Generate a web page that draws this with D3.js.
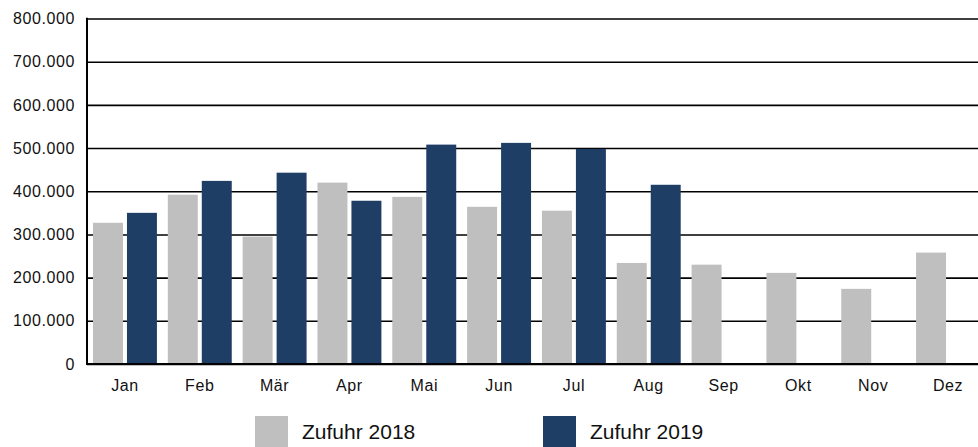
<!DOCTYPE html>
<html>
<head>
<meta charset="utf-8">
<script src="https://cdn.jsdelivr.net/npm/d3@7"></script>
<style>
  body { margin: 0; background: #fff; }
  #chart text { font-family: "Liberation Sans", Arial, sans-serif; fill: #111; }
</style>
</head>
<body>
<div id="chart"></div>
<script>
var months = ["Jan", "Feb", "Mär", "Apr", "Mai", "Jun", "Jul", "Aug", "Sep", "Okt", "Nov", "Dez"];
var series = ["Zufuhr 2018", "Zufuhr 2019"];
var values2018 = [327000, 392000, 295000, 420000, 387000, 364000, 355000, 234000, 230000, 211000, 174000, 258000];
var values2019 = [350000, 424000, 443000, 378000, 508000, 512000, 498000, 415000, null, null, null, null];
var yTicks = [0, 100000, 200000, 300000, 400000, 500000, 600000, 700000, 800000];
var colors = ["#bfbfbf", "#1f3e66"];

render();

function render() {
  var width = 978, height = 447;
  var left = 87, right = 986, top = 18.5, bottom = 364;

  var svg = d3.select("#chart")
    .append("svg")
    .attr("width", width)
    .attr("height", height);

  var locale = d3.formatLocale({ decimal: ",", thousands: ".", grouping: [3], currency: ["", " €"] });
  var fmt = locale.format(",.0f");

  var xScale = d3.scaleBand()
    .domain(months)
    .range([left, right])
    .paddingInner(0.1455)
    .paddingOuter(0.08);

  var xInner = d3.scaleBand()
    .domain(series)
    .range([0, xScale.bandwidth()])
    .paddingInner(0.118);

  var yScale = d3.scaleLinear()
    .domain([0, 800000])
    .range([bottom, top]);

  // gridlines + labels
  var yAxis = svg.append("g")
    .attr("transform", "translate(" + left + ",0)")
    .call(d3.axisLeft(yScale)
      .tickValues(yTicks)
      .tickFormat(fmt)
      .tickSize(-(width - left))
      .tickPadding(12));
  yAxis.select(".domain").remove();
  yAxis.selectAll(".tick line")
    .attr("stroke", "#000")
    .attr("stroke-width", 1.6);
  yAxis.selectAll(".tick text")
    .style("font-size", "16px")
    .style("letter-spacing", "0.6px");

  var data = months.map(function (m, i) {
    return { month: m, vals: [values2018[i], values2019[i]] };
  });

  var groups = svg.append("g").selectAll("g")
    .data(data)
    .enter().append("g")
    .attr("transform", function (d) { return "translate(" + xScale(d.month) + ",0)"; });

  groups.selectAll("rect")
    .data(function (d) {
      return series.map(function (s, j) { return { s: s, j: j, v: d.vals[j] }; })
        .filter(function (e) { return e.v != null; });
    })
    .enter().append("rect")
    .attr("x", function (e) { return xInner(e.s); })
    .attr("width", xInner.bandwidth())
    .attr("y", function (e) { return yScale(e.v); })
    .attr("height", function (e) { return yScale(0) - yScale(e.v); })
    .attr("fill", function (e) { return colors[e.j]; });

  // axes lines
  svg.append("line")
    .attr("x1", left).attr("x2", width)
    .attr("y1", bottom).attr("y2", bottom)
    .attr("stroke", "#000").attr("stroke-width", 2);
  svg.append("line")
    .attr("x1", left).attr("x2", left)
    .attr("y1", top - 0.8).attr("y2", bottom + 1)
    .attr("stroke", "#000").attr("stroke-width", 2);

  var xAxis = svg.append("g")
    .attr("transform", "translate(0," + bottom + ")")
    .call(d3.axisBottom(xScale).tickSize(0).tickPadding(16));
  xAxis.select(".domain").remove();
  xAxis.selectAll(".tick text")
    .style("font-size", "16px")
    .style("letter-spacing", "0.6px");

  // legend
  var legendX = [255, 543];
  var legend = svg.append("g").selectAll("g")
    .data(series)
    .enter().append("g")
    .attr("transform", function (d, i) { return "translate(" + legendX[i] + ",416)"; });
  legend.append("rect")
    .attr("width", 33)
    .attr("height", 31)
    .attr("fill", function (d, i) { return colors[i]; });
  legend.append("text")
    .attr("x", 47)
    .attr("y", 23)
    .style("font-size", "21px")
    .text(function (d) { return d; });
}
</script>
</body>
</html>
